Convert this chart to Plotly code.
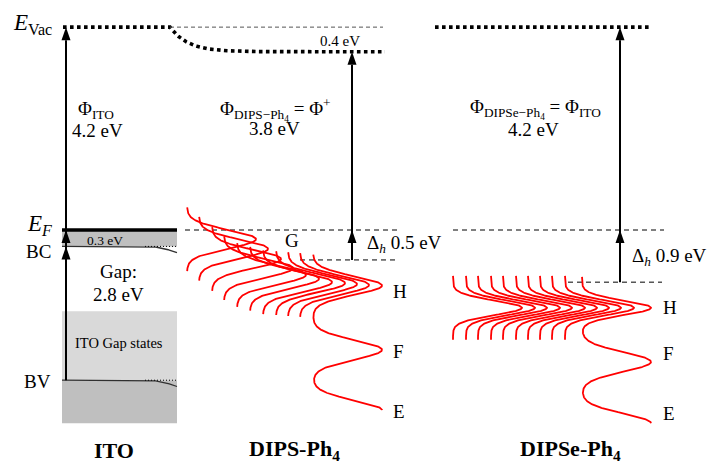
import numpy as np
import plotly.graph_objects as go

# ---------------- data (energies in eV, relative to E_F = 0) ----------------
materials = ["ITO", "DIPS-Ph<sub>4</sub>", "DIPSe-Ph<sub>4</sub>"]
work_function_text = ["4.2 eV", "3.8 eV", "4.2 eV"]
vacuum_level = [4.2, 3.69, 4.2]            # drawn vacuum levels (ITO, DIPS, DIPSe)
vac_shift_text = "0.4 eV"

ito_bc = -0.34
ito_gap_states_top = -1.68
ito_bv = -3.11
ito_band_bottom = -4.00
ito_bending = 0.13
bc_offset_text = "0.3 eV"
gap_text = "2.8 eV"

hole_onset = [-0.62, -1.08]                # DIPS, DIPSe HOMO onsets
delta_h_text = ["0.5 eV", "0.9 eV"]

dips_H_centers = [-0.19, -0.39, -0.60, -0.79, -0.93, -1.01, -1.08, -1.10, -1.12, -1.14, -1.15]
dips_F_center = -2.48
dips_E_center = -3.73
dipse_H_centers = [-1.61, -1.61, -1.61, -1.61, -1.61, -1.61, -1.61, -1.61, -1.61, -1.61, -1.61]
dipse_F_center = -2.73
dipse_E_center = -4.00
peak_labels = ["H", "F", "E"]

# ---------------- layout constants ----------------
W, H = 707, 465
PX_PER_EV = 48.3
EF_ROW = 230
Y_TOP = EF_ROW / PX_PER_EV
Y_BOT = -(H - EF_ROW) / PX_PER_EV


def ev(row):
    """convert a pixel row (layout only) to the energy axis"""
    return (EF_ROW - row) / PX_PER_EV


FONT = "Liberation Serif, Times New Roman, serif"
RED = "#ff0000"
ito_x = [62, 177]
bend_start = 145
dips_x0 = [187, 199, 212, 224, 237, 250, 263, 276, 288, 300, 313]
dipse_x0 = [453, 466, 478, 491, 503, 516, 528, 540, 552, 565, 582]
AMP = 69
HALF_SPAN = 0.66
arrow_x = [66, 352, 620]

fig = go.Figure()
shapes = []
ann = []


def line(x, y, color="black", width=1.5, dash=None):
    fig.add_trace(go.Scatter(x=x, y=y, mode="lines", hoverinfo="skip",
                             line=dict(color=color, width=width, dash=dash)))


def head(x, ytip, w=9, hpx=13):
    h = hpx / PX_PER_EV
    fig.add_trace(go.Scatter(x=[x - w / 2, x + w / 2, x, x - w / 2],
                             y=[ytip - h, ytip - h, ytip, ytip - h],
                             mode="lines", fill="toself", fillcolor="black",
                             line=dict(width=0, color="black"), hoverinfo="skip"))


# ---------------- ITO block ----------------
shapes.append(dict(type="rect", xref="x", yref="y", x0=ito_x[0], x1=ito_x[1], y0=ito_bc, y1=0,
                   fillcolor="#bfbfbf", line=dict(width=0), layer="below"))
shapes.append(dict(type="rect", xref="x", yref="y", x0=ito_x[0], x1=ito_x[1], y0=ito_bv,
                   y1=ito_gap_states_top, fillcolor="#d9d9d9", line=dict(width=0), layer="below"))
shapes.append(dict(type="rect", xref="x", yref="y", x0=ito_x[0], x1=ito_x[1], y0=ito_band_bottom,
                   y1=ito_bv, fillcolor="#bfbfbf", line=dict(width=0), layer="below"))

xb = np.linspace(ito_x[0], ito_x[1], 120)
t = np.clip((xb - bend_start) / (ito_x[1] - bend_start), 0, 1)
for lvl in (ito_bc, ito_bv):
    line(xb, lvl - ito_bending * t ** 2, color="#303030", width=1.3)
    line([bend_start, ito_x[1]], [lvl, lvl], color="black", width=1, dash="1px,2px")
line(ito_x, [0, 0], color="black", width=3.5)

# ---------------- vacuum levels ----------------
xv1 = np.linspace(63, 170, 20)
xv2 = np.linspace(170, 385, 200)
yv2 = vacuum_level[1] + (vacuum_level[0] - vacuum_level[1]) * np.exp(-(xv2 - 170) / 18)
line(np.concatenate([xv1, xv2]), np.concatenate([np.full_like(xv1, vacuum_level[0]), yv2]),
     width=3.6, dash="3.6px,3.4px")
line([170, 383], [vacuum_level[0]] * 2, color="#555555", width=1, dash="4px,3px")
line([435, 650], [vacuum_level[2]] * 2, width=3.6, dash="3.6px,3.4px")

# ---------------- dashed reference lines ----------------
line([185, 400], [0, 0], width=1, dash="5px,4px")
line([453, 664], [0, 0], width=1, dash="5px,4px")
line([300, 396], [hole_onset[0]] * 2, width=1, dash="5px,4px")
line([568, 662], [hole_onset[1]] * 2, width=1, dash="5px,4px")

# ---------------- arrows ----------------
hh = 13 / PX_PER_EV
line([arrow_x[0]] * 2, [ito_bv, vacuum_level[0] - hh], width=2)
head(arrow_x[0], vacuum_level[0])
head(arrow_x[0], 0)
head(arrow_x[0], ito_bc)
line([arrow_x[1]] * 2, [hole_onset[0], vacuum_level[1] - hh], width=2)
head(arrow_x[1], vacuum_level[1])
head(arrow_x[1], 0)
line([arrow_x[2]] * 2, [hole_onset[1], vacuum_level[2] - hh], width=2)
head(arrow_x[2], vacuum_level[2])
head(arrow_x[2], 0)


# ---------------- density of states curves ----------------
def gauss(y, c, s):
    return np.exp(-0.5 * ((y - c) / s) ** 2)


def dos_set(x0s, hcs, fc, ec, sH):
    for k, (x0, hc) in enumerate(zip(x0s, hcs)):
        if k < len(x0s) - 1:
            y = np.linspace(hc + HALF_SPAN, hc - HALF_SPAN, 200)
            x = x0 + AMP * gauss(y, hc, sH)
        else:
            y = np.linspace(hc + 0.64, ec, 600)
            x = x0 + AMP * (gauss(y, hc, sH) + gauss(y, fc, 0.2) + gauss(y, ec, 0.2))
        line(x, y, color=RED, width=1.8)


dos_set(dips_x0, dips_H_centers, dips_F_center, dips_E_center, 0.19)
dos_set(dipse_x0, dipse_H_centers, dipse_F_center, dipse_E_center, 0.15)


# ---------------- text ----------------
def text(x, y, s, size=19, anchor="center", bold=False, color="black"):
    if bold:
        s = "<b>" + s + "</b>"
    ann.append(dict(x=x, y=y, xref="x", yref="y", text=s, showarrow=False,
                    xanchor=anchor, yanchor="middle",
                    font=dict(family=FONT, size=size, color=color)))


text(54, ev(24), "<i>E</i><sub>Vac</sub>", size=23, anchor="right")
text(54, ev(225), "<i>E</i><sub><i>F</i></sub>", size=23, anchor="right")
text(53, ev(251), "BC", size=19, anchor="right")
text(53, ev(381), "BV", size=19, anchor="right")

text(76, ev(110), "Φ<sub>ITO</sub>", size=19, anchor="left")
text(97, ev(130), work_function_text[0], size=19)
text(105, ev(240), bc_offset_text, size=13.5)
text(118, ev(271), "Gap:", size=19)
text(118, ev(294), gap_text, size=19)
text(119, ev(343), "ITO Gap states", size=14.5)

text(340, ev(41), vac_shift_text, size=15)
text(275, ev(109), "Φ<sub>DIPS−Ph<sub>4</sub></sub> = Φ<sup>+</sup>", size=19)
text(274, ev(128), work_function_text[1], size=19)
text(292, ev(240), "G", size=19)
text(365, ev(244), "Δ<sub><i>h</i></sub> " + delta_h_text[0], size=19, anchor="left")
text(391, ev(291), peak_labels[0], size=19, anchor="left")
text(391, ev(351), peak_labels[1], size=19, anchor="left")
text(391, ev(411), peak_labels[2], size=19, anchor="left")

text(535, ev(109), "Φ<sub>DIPSe−Ph<sub>4</sub></sub> = Φ<sub>ITO</sub>", size=19)
text(533, ev(129), work_function_text[2], size=19)
text(630, ev(257), "Δ<sub><i>h</i></sub> " + delta_h_text[1], size=19, anchor="left")
text(661, ev(307), peak_labels[0], size=19, anchor="left")
text(661, ev(353), peak_labels[1], size=19, anchor="left")
text(661, ev(413), peak_labels[2], size=19, anchor="left")

text(114, ev(450), materials[0], size=22, bold=True)
text(294, ev(450), materials[1], size=22, bold=True)
text(570, ev(450), materials[2], size=22, bold=True)

fig.update_layout(
    width=W, height=H, margin=dict(l=0, r=0, t=0, b=0),
    paper_bgcolor="white", plot_bgcolor="white", showlegend=False,
    xaxis=dict(range=[0, W], visible=False, fixedrange=True),
    yaxis=dict(range=[Y_BOT, Y_TOP], visible=False, fixedrange=True),
    shapes=shapes, annotations=ann,
)
fig.write_html("out.html", config={"displayModeBar": False},
               post_script="document.body.style.margin='0';document.body.style.overflow='hidden';")
